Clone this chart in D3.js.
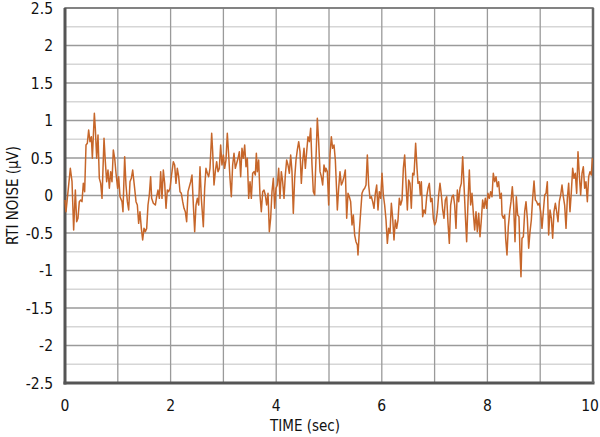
<!DOCTYPE html>
<html>
<head>
<meta charset="utf-8">
<script src="https://cdn.jsdelivr.net/npm/d3@7"></script>
<style>
  html, body { margin: 0; padding: 0; background: #fff; }
  svg { display: block; }
  .tick-label { font-family: "Liberation Sans Narrow", "DejaVu Sans Condensed", "Liberation Sans", sans-serif; font-size: 15.5px; fill: #111; }
  .axis-title { font-family: "Liberation Sans Narrow", "DejaVu Sans Condensed", "Liberation Sans", sans-serif; font-size: 15px; fill: #111; }
</style>
</head>
<body>
<svg id="chart" width="600" height="437"></svg>
<script>
// ---- DATA ----
const xTicks = [0, 2, 4, 6, 8, 10];
const yTicks = [-2.5, -2, -1.5, -1, -0.5, 0, 0.5, 1, 1.5, 2, 2.5];
const xTitle = "TIME (sec)";
const yTitle = "RTI NOISE (µV)";

const timeSec = [
0.000,0.019,0.101,0.133,0.164,0.196,0.221,0.246,0.271,0.297,0.322,0.347,0.372,0.398,0.423,0.448,0.473,0.499,0.518,0.556,
0.574,0.600,0.625,0.650,0.676,0.701,0.739,0.764,0.789,0.814,0.840,0.865,0.890,0.915,0.941,0.966,0.997,1.016,1.042,1.080,
1.098,1.130,1.155,1.181,1.206,1.231,1.256,1.282,1.319,1.345,1.370,1.395,1.420,1.446,1.471,1.496,1.521,1.547,1.572,1.597,
1.622,1.641,1.673,1.711,1.736,1.761,1.787,1.812,1.837,1.862,1.888,1.913,1.938,1.963,1.989,2.014,2.052,2.077,2.102,2.127,
2.153,2.178,2.203,2.229,2.254,2.279,2.304,2.330,2.355,2.380,2.405,2.431,2.456,2.481,2.506,2.532,2.557,2.582,2.620,2.645,
2.670,2.696,2.721,2.746,2.778,2.797,2.822,2.847,2.872,2.898,2.923,2.948,2.973,2.999,3.024,3.049,3.074,3.100,3.125,3.150,
3.175,3.201,3.226,3.251,3.277,3.302,3.327,3.352,3.378,3.403,3.428,3.453,3.479,3.504,3.529,3.554,3.580,3.605,3.624,3.643,
3.668,3.693,3.718,3.744,3.769,3.794,3.819,3.845,3.870,3.895,3.920,3.946,3.971,3.996,4.021,4.047,4.072,4.097,4.122,4.148,
4.173,4.198,4.223,4.249,4.274,4.299,4.324,4.350,4.375,4.400,4.426,4.451,4.476,4.501,4.527,4.552,4.577,4.602,4.628,4.653,
4.678,4.703,4.729,4.754,4.779,4.804,4.830,4.855,4.880,4.905,4.931,4.943,4.968,4.994,5.019,5.044,5.069,5.095,5.120,5.145,
5.158,5.183,5.208,5.234,5.259,5.284,5.309,5.335,5.360,5.385,5.410,5.436,5.461,5.486,5.511,5.537,5.549,5.574,5.600,5.625,
5.650,5.676,5.701,5.726,5.751,5.777,5.802,5.827,5.852,5.878,5.903,5.928,5.953,5.979,6.004,6.029,6.054,6.080,6.105,6.130,
6.155,6.181,6.206,6.231,6.256,6.282,6.307,6.332,6.357,6.383,6.408,6.433,6.458,6.484,6.509,6.534,6.559,6.585,6.610,6.641,
6.667,6.686,6.711,6.730,6.749,6.774,6.799,6.824,6.850,6.875,6.900,6.926,6.951,6.976,7.001,7.027,7.052,7.077,7.102,7.128,
7.153,7.178,7.203,7.229,7.254,7.279,7.304,7.330,7.355,7.380,7.405,7.431,7.456,7.481,7.506,7.532,7.557,7.582,7.607,7.633,
7.658,7.683,7.708,7.734,7.759,7.784,7.809,7.835,7.860,7.885,7.910,7.936,7.961,7.986,8.011,8.037,8.062,8.087,8.112,8.138,
8.163,8.188,8.213,8.239,8.264,8.277,8.302,8.327,8.346,8.371,8.396,8.422,8.447,8.472,8.497,8.523,8.548,8.573,8.598,8.617,
8.636,8.655,8.681,8.706,8.731,8.756,8.782,8.807,8.832,8.857,8.883,8.908,8.933,8.958,8.984,9.009,9.034,9.059,9.085,9.110,
9.135,9.160,9.186,9.211,9.236,9.261,9.287,9.312,9.337,9.362,9.388,9.413,9.438,9.463,9.489,9.514,9.539,9.564,9.590,9.615,
9.640,9.665,9.691,9.716,9.741,9.766,9.792,9.817,9.842,9.867,9.893,9.918,9.943,9.968,9.987
];

const noiseUV = [
-0.060,-0.216,0.362,0.184,-0.460,0.073,-0.349,-0.304,-0.082,-0.060,-0.082,0.162,0.051,0.673,0.696,0.873,0.718,0.784,0.496,1.096,
0.896,0.496,0.807,0.229,0.162,-0.038,0.762,0.451,0.184,0.340,0.096,0.318,0.184,0.607,0.496,0.296,0.096,0.251,-0.016,-0.082,
-0.216,0.518,0.140,-0.082,-0.193,0.184,0.229,0.340,0.096,-0.082,-0.127,-0.371,-0.216,-0.438,-0.593,-0.438,-0.482,-0.438,-0.127,0.007,
0.251,-0.038,-0.104,-0.127,-0.016,0.073,-0.038,0.318,-0.038,0.340,0.162,-0.171,0.073,0.051,0.096,0.251,0.451,0.407,0.162,0.362,
0.251,0.051,0.029,-0.082,-0.171,-0.216,-0.349,0.051,0.118,0.184,0.273,-0.127,-0.482,-0.127,-0.038,-0.127,0.384,-0.038,-0.416,0.096,
0.362,0.296,0.251,0.362,0.829,0.584,0.140,0.318,0.451,0.318,0.362,0.673,0.407,0.540,0.362,0.473,0.829,0.540,0.229,-0.016,
0.407,0.562,0.362,0.429,0.496,0.584,0.251,0.629,0.496,0.673,0.384,0.496,-0.038,0.184,-0.038,0.296,0.318,0.273,0.562,0.318,
0.473,0.007,-0.216,0.051,0.073,0.007,-0.127,0.029,-0.482,-0.304,0.051,0.229,-0.171,0.096,0.140,0.362,-0.038,0.318,0.184,-0.038,
0.273,0.473,0.407,0.296,0.540,0.318,-0.238,0.229,0.473,0.607,0.718,0.584,0.162,0.451,0.629,0.362,0.584,0.784,0.718,0.896,
0.407,0.051,0.007,0.496,1.029,0.718,0.318,0.251,0.140,0.407,0.318,0.362,0.318,-0.127,0.540,0.784,0.629,0.673,0.473,0.051,
-0.193,0.096,0.318,0.140,0.184,0.251,0.340,-0.304,0.029,-0.016,-0.082,-0.393,-0.260,-0.527,-0.616,-0.660,-0.793,-0.482,-0.216,0.029,
0.073,0.096,0.140,0.540,0.140,-0.038,-0.016,-0.082,-0.171,0.029,0.140,-0.193,0.051,-0.038,0.296,0.007,-0.127,-0.327,-0.638,-0.438,
-0.504,-0.104,-0.304,-0.593,-0.327,-0.438,-0.327,-0.038,-0.127,-0.060,0.362,0.540,0.184,-0.193,0.207,0.162,-0.171,0.296,0.273,0.696,
0.362,0.162,0.184,0.007,0.184,-0.282,-0.193,-0.238,-0.016,0.096,0.162,-0.082,-0.038,-0.304,-0.393,-0.349,-0.216,0.007,0.162,0.007,
-0.193,-0.304,-0.060,-0.016,-0.371,-0.638,-0.127,-0.016,0.007,-0.127,-0.438,0.073,-0.082,0.096,0.162,0.518,0.140,-0.260,-0.616,-0.082,
0.340,-0.127,0.029,-0.238,-0.460,-0.216,-0.482,-0.238,-0.549,-0.327,-0.060,-0.171,-0.038,-0.171,0.029,-0.038,0.051,-0.016,0.296,0.184,
0.251,0.118,0.184,-0.038,0.029,-0.260,-0.304,-0.260,-0.571,-0.793,-0.416,-0.216,-0.082,0.118,-0.127,-0.616,-0.016,-0.260,-0.282,-0.749,
-1.082,-0.571,-0.549,-0.216,-0.082,-0.304,-0.704,-0.482,-0.327,-0.038,0.193,-0.060,-0.082,-0.127,-0.104,-0.216,-0.438,-0.216,0.007,0.029,
0.184,-0.527,-0.193,-0.304,-0.571,-0.216,-0.104,-0.216,-0.349,-0.082,0.007,0.140,-0.016,-0.127,-0.438,-0.038,0.162,-0.216,0.051,0.362,
0.229,0.296,0.029,0.584,0.273,0.007,0.296,0.384,0.096,0.184,-0.082,0.251,0.318,0.273,0.496
];

// ---- LAYOUT ----
const svg = d3.select("#chart");
const margin = { left: 65, right: 7, top: 8, bottom: 54 };
const W = 600, H = 437;
const x = d3.scaleLinear().domain([0, 10]).range([margin.left, W - margin.right]);
const y = d3.scaleLinear().domain([-2.5, 2.5]).range([H - margin.bottom, margin.top]);

const x0 = x.range()[0], x1 = x.range()[1], y0 = y.range()[1], y1 = y.range()[0];

// minor horizontal grid (every 0.25)
const minorY = d3.range(-2.5, 2.5001, 0.25).filter(v => Math.abs((v * 2) - Math.round(v * 2)) > 1e-6);
svg.append("g").selectAll("line").data(minorY).join("line")
  .attr("x1", x0).attr("x2", x1)
  .attr("y1", d => y(d)).attr("y2", d => y(d))
  .attr("stroke", "#d6d6d6").attr("stroke-width", 1.3);

// major horizontal grid (every 0.5)
svg.append("g").selectAll("line").data(yTicks).join("line")
  .attr("x1", x0).attr("x2", x1)
  .attr("y1", d => y(d)).attr("y2", d => y(d))
  .attr("stroke", "#9a9a9a").attr("stroke-width", 1.3);

// vertical grid (every 1 s)
svg.append("g").selectAll("line").data(d3.range(0, 11, 1)).join("line")
  .attr("x1", d => x(d)).attr("x2", d => x(d))
  .attr("y1", y0).attr("y2", y1)
  .attr("stroke", "#9a9a9a").attr("stroke-width", 1.3);

// frame
svg.append("rect")
  .attr("x", x0).attr("y", y0).attr("width", x1 - x0).attr("height", y1 - y0)
  .attr("fill", "none").attr("stroke", "#777").attr("stroke-width", 1.6);
svg.append("line").attr("x1", x0).attr("x2", x0).attr("y1", y0).attr("y2", y1 + 1.5)
  .attr("stroke", "#555").attr("stroke-width", 3);
svg.append("line").attr("x1", x0 - 1.5).attr("x2", x1 + 1.5).attr("y1", y1).attr("y2", y1)
  .attr("stroke", "#555").attr("stroke-width", 3);
svg.append("line").attr("x1", x1).attr("x2", x1).attr("y1", y0).attr("y2", y1)
  .attr("stroke", "#666").attr("stroke-width", 2.5);

// trace
const pts = timeSec.map((t, i) => [t, noiseUV[i]]);
svg.append("path")
  .datum(pts)
  .attr("fill", "none")
  .attr("stroke", "#c6662a")
  .attr("stroke-width", 1.5)
  .attr("stroke-linejoin", "round")
  .attr("d", d3.line().x(d => x(d[0])).y(d => y(d[1])));

// y tick labels
svg.append("g").selectAll("text").data(yTicks).join("text")
  .attr("class", "tick-label")
  .attr("x", x0 - 12).attr("y", d => y(d))
  .attr("dy", "0.36em")
  .attr("text-anchor", "end")
  .text(d => String(d));

// x tick labels (last one kept inside the window edge)
const xMax = x.domain()[1];
svg.append("g").selectAll("text").data(xTicks).join("text")
  .attr("class", "tick-label")
  .attr("x", d => d === xMax ? W - 1 : x(d)).attr("y", y1 + 28)
  .attr("text-anchor", d => d === xMax ? "end" : "middle")
  .text(d => d);

// axis titles
svg.append("text").attr("class", "axis-title")
  .attr("x", 305).attr("y", 431)
  .attr("text-anchor", "middle")
  .text(xTitle);

svg.append("text").attr("class", "axis-title")
  .attr("transform", `translate(18, ${(y0 + y1) / 2}) rotate(-90)`)
  .attr("text-anchor", "middle")
  .text(yTitle);
</script>
</body>
</html>
